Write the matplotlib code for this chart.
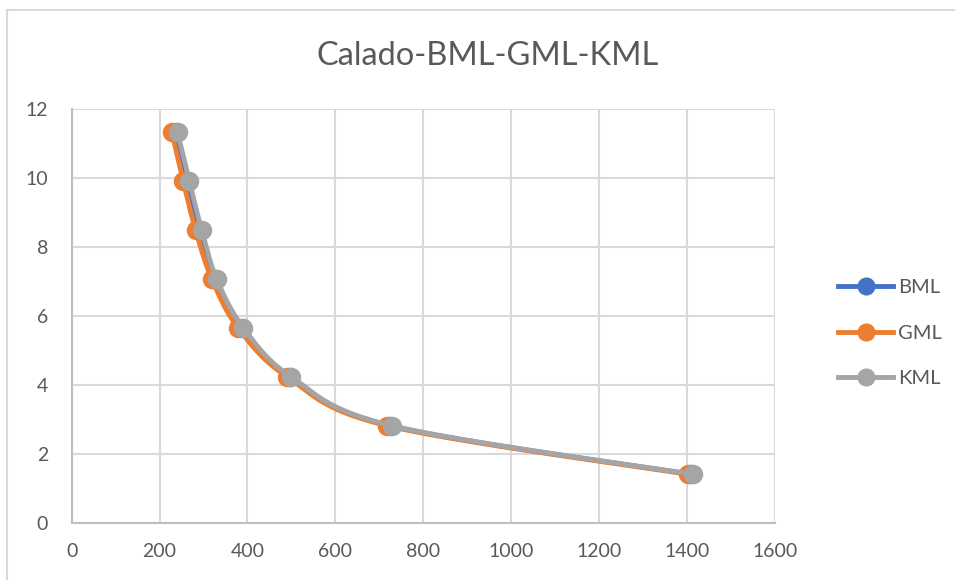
import numpy as np
import matplotlib
matplotlib.use("Agg")
import matplotlib.pyplot as plt
from matplotlib.patches import Rectangle

# draft (calado) shared by the three curves
calado = [11.33, 9.91, 8.50, 7.08, 5.66, 4.25, 2.83, 1.42]
bml = [237, 264, 292, 326, 387, 496, 724, 1410]
gml = [228, 254, 282, 319, 379, 490, 717, 1402]
kml = [241, 268, 296, 330, 391, 499, 728, 1414]

series_names = ["BML", "GML", "KML"]
series_colors = ["#4472C4", "#ED7D31", "#A5A5A5"]
x_ticks = [0, 200, 400, 600, 800, 1000, 1200, 1400, 1600]
y_ticks = [0, 2, 4, 6, 8, 10, 12]

text_color = "#595959"
grid_color = "#D9D9D9"


def smooth(xs, ys, steps=30):
    # Catmull-Rom through every point, end points repeated
    p = np.column_stack([xs, ys]).astype(float)
    p = np.vstack([p[0], p, p[-1]])
    out = []
    t = np.linspace(0, 1, steps)[:, None]
    for i in range(1, len(p) - 2):
        p0, p1, p2, p3 = p[i - 1], p[i], p[i + 1], p[i + 2]
        c1 = p1 + (p2 - p0) / 6
        c2 = p2 - (p3 - p1) / 6
        seg = ((1 - t) ** 3) * p1 + 3 * ((1 - t) ** 2) * t * c1 \
            + 3 * (1 - t) * t ** 2 * c2 + t ** 3 * p2
        out.append(seg if i == 1 else seg[1:])
    out = np.vstack(out)
    return out[:, 0], out[:, 1]


plt.rcParams["font.family"] = ["Lato", "DejaVu Sans"]

fig = plt.figure(figsize=(9.55, 5.8), dpi=100)
fig.patches.append(Rectangle((7 / 955, -0.05), 1.1, 1 - 10 / 580 + 0.05,
                             transform=fig.transFigure, fill=False,
                             edgecolor=grid_color, linewidth=1.5))

ax = fig.add_axes([71.6 / 955, 1 - 523.3 / 580, (775 - 71.6) / 955, (523.3 - 109.3) / 580])
ax.set_xlim(0, 1600)
ax.set_ylim(0, 12)
ax.set_xticks(x_ticks)
ax.set_yticks(y_ticks)
ax.grid(True, color=grid_color, linewidth=1.5)
ax.set_axisbelow(True)
for side in ["top", "right"]:
    ax.spines[side].set_visible(False)
for side in ["left", "bottom"]:
    ax.spines[side].set_color("#BFBFBF")
    ax.spines[side].set_linewidth(1.5)
ax.tick_params(axis="both", length=0, labelsize=14, labelcolor=text_color)
ax.tick_params(axis="x", pad=14)
ax.tick_params(axis="y", pad=17)

handles = []
for name, xs, color in zip(series_names, [bml, gml, kml], series_colors):
    sx, sy = smooth(xs, calado)
    ax.plot(sx, sy, color=color, linewidth=3.5, solid_capstyle="round", zorder=3)
    ax.plot(xs, calado, linestyle="none", marker="o", markersize=13,
            color=color, zorder=3)
    h, = ax.plot([], [], color=color, linewidth=3.5, marker="o", markersize=12)
    handles.append(h)

fig.text(488 / 955, 1 - 56 / 580, "Calado-BML-GML-KML", ha="center", va="center",
         fontsize=23.5, color=text_color)

ax.legend(handles, series_names, loc="center left", frameon=False,
          bbox_to_anchor=(828 / 955, 1 - 333 / 580), bbox_transform=fig.transFigure,
          fontsize=14.5, labelcolor=text_color, handlelength=2.75,
          handletextpad=0.25, labelspacing=1.4, borderpad=0)

fig.savefig("out.png", dpi=100)
